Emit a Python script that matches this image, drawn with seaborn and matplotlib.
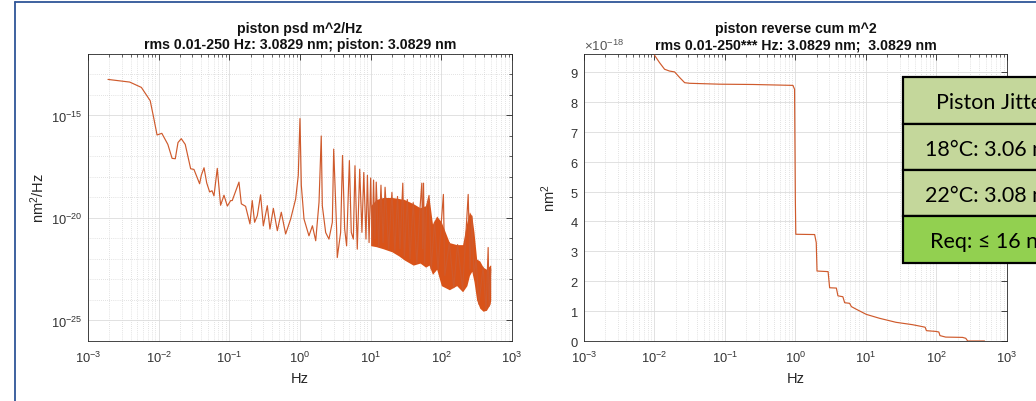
import numpy as np
import matplotlib
matplotlib.use("Agg")
import matplotlib.pyplot as plt
import seaborn as sns
from matplotlib.ticker import FixedLocator, NullFormatter, LogFormatterSciNotation
from matplotlib.patches import Rectangle
from matplotlib.lines import Line2D

# ---------------- data ----------------
# PSD trace: frequency (Hz) and log10 of PSD value
psd_freq = [0.00192, 0.0039, 0.0057, 0.0076, 0.0085, 0.0095, 0.0111, 0.0135, 0.0155, 0.0172,
            0.0188, 0.0209, 0.0238, 0.0284, 0.0316, 0.038, 0.0402, 0.0439, 0.0479, 0.0527,
            0.0569, 0.0607, 0.0676, 0.0753, 0.0841, 0.0938, 0.1045, 0.110, 0.137, 0.148,
            0.170, 0.196, 0.211, 0.228, 0.249, 0.277, 0.303, 0.345, 0.376, 0.42,
            0.478, 0.544, 0.627, 0.738, 0.869, 0.946, 1.0, 1.045, 1.14, 1.34,
            1.50, 1.67, 1.86, 2.0, 2.07, 2.31, 2.57, 2.87, 3.0, 3.30,
            3.37, 3.76, 4.0, 4.29, 4.57, 5.0, 5.32, 5.69, 6.0, 6.47,
            7.0, 7.53, 8.0, 8.59, 9.0, 9.5, 10.0, 10.5, 11.0, 11.5,
            12.0, 13.0, 14.0, 15.0, 16.0, 18.0, 20.0, 22.0, 24.0, 26.0,
            28.5, 30.0, 33.0, 36.0, 40.0, 45.0, 50.0, 53.0, 54.5, 56.0,
            58.0, 62.0, 67.0, 72.0, 80.0, 90.0, 100.0, 107.0, 112.0, 130.0,
            150.0, 170.0, 200.0, 225.0, 240.0, 255.0, 270.0, 290.0, 310.0, 340.0,
            390.0, 430.0, 460.0, 475.0, 500.0]
psd_log10 = [-13.24, -13.37, -13.63, -14.28, -15.10, -15.95, -15.87, -16.41, -17.09, -17.11,
             -16.32, -16.13, -16.41, -17.60, -17.63, -18.33, -17.91, -17.55, -18.29, -18.73,
             -18.67, -18.92, -17.58, -19.38, -18.89, -19.42, -19.15, -19.15, -18.25, -19.31,
             -19.43, -20.29, -19.15, -20.21, -19.89, -18.87, -20.38, -19.40, -20.54, -19.53,
             -20.62, -19.72, -20.78, -20.05, -19.07, -17.92, -15.15, -18.41, -20.05, -20.87,
             -20.38, -21.11, -19.23, -16.00, -19.40, -20.71, -21.03, -20.21, -16.64, -20.54,
             -21.93, -20.71, -16.95, -20.54, -21.36, -17.20, -20.70, -21.03, -17.45, -21.52,
             -17.62, -20.70, -17.78, -21.03, -17.92, -21.20, -18.05, -21.30, -18.15, -21.00,
             -18.25, -21.40, -18.40, -21.20, -18.50, -21.50, -18.75, -21.60, -18.95, -21.50,
             -18.30, -21.90, -19.10, -22.00, -19.25, -22.20, -19.50, -18.30, -21.50, -18.30,
             -22.20, -19.40, -18.90, -22.50, -20.20, -22.50, -20.20, -18.85, -22.80, -21.20,
             -23.40, -21.30, -23.50, -20.50, -18.85, -22.50, -19.90, -22.80, -22.00, -24.20,
             -22.40, -24.50, -21.44, -24.30, -22.50]

# dense part of the PSD (upper / lower envelope of the solid body, log10)
band_freq = [10, 12, 15, 20, 25, 30, 40, 50, 60, 67, 75, 86, 100, 130, 165,
             200, 230, 250, 270, 290, 316, 350, 390, 435, 490, 500]
band_hi = [-19.4, -19.1, -19.0, -19.0, -19.05, -19.1, -19.3, -19.5, -19.4, -19.0,
           -20.3, -19.9, -20.2, -21.2, -21.3, -21.3, -20.2, -19.7, -19.9, -20.7,
           -22.0, -22.1, -22.4, -22.5, -22.3, -22.3]
band_lo = [-21.35, -21.4, -21.5, -21.65, -21.85, -22.05, -22.3, -22.2, -22.4, -22.3,
           -22.75, -22.5, -23.3, -23.5, -23.3, -23.6, -23.3, -22.8, -22.6, -23.1,
           -24.0, -24.4, -24.55, -24.5, -24.2, -24.0]

# reverse cumulative (units of 1e-18)
cum_freq = [0.01, 0.0118, 0.0139, 0.0163, 0.0193, 0.0228, 0.0268, 0.0316, 0.084, 0.25,
            0.92, 0.97, 0.995, 1.01, 1.87, 1.97, 2.02, 2.9, 3.05, 3.8,
            4.0, 4.7, 4.98, 5.86, 6.2, 7.3, 10.1, 15.5, 26.6, 45.7,
            63.0, 69.0, 72.0, 98.0, 108.0, 112.0, 135.0, 234.0, 260.0, 277.0, 480.0]
cum_val = [9.56, 9.31, 9.09, 9.03, 9.0, 8.81, 8.64, 8.62, 8.59, 8.58,
           8.55, 8.42, 4.74, 3.57, 3.56, 3.29, 2.34, 2.32, 1.78, 1.77,
           1.51, 1.48, 1.28, 1.26, 1.15, 1.06, 0.89, 0.76, 0.625, 0.545,
           0.48, 0.46, 0.345, 0.32, 0.30, 0.18, 0.13, 0.12, 0.09, 0.0, 0.0]

table_rows = ["Piston Jitter", "18\u00b0C: 3.06 nm", "22\u00b0C: 3.08 nm", "Req: \u2264 16 nm"]
table_colors = ["#C4D79B", "#C4D79B", "#C4D79B", "#92D050"]

title_left = "piston psd m^2/Hz\nrms 0.01-250 Hz: 3.0829 nm; piston: 3.0829 nm"
title_right = "piston reverse cum m^2\nrms 0.01-250*** Hz: 3.0829 nm;  3.0829 nm"

# ---------------- style ----------------
sns.set_theme(style="white")
plt.rcParams.update({
    "axes.edgecolor": "#262626",
    "axes.linewidth": 0.6,
    "xtick.direction": "in",
    "ytick.direction": "in",
    "xtick.top": True,
    "ytick.right": True,
    "xtick.color": "#262626",
    "ytick.color": "#262626",
    "xtick.labelcolor": "#333333",
    "ytick.labelcolor": "#333333",
    "xtick.major.size": 4,
    "ytick.major.size": 4,
    "xtick.minor.size": 2,
    "ytick.minor.size": 2,
    "xtick.major.width": 0.6,
    "ytick.major.width": 0.6,
    "xtick.minor.width": 0.5,
    "ytick.minor.width": 0.5,
    "xtick.major.pad": 6,
    "ytick.major.pad": 4,
    "xtick.labelsize": 9.3,
    "ytick.labelsize": 9.3,
    "axes.labelsize": 10.5,
    "axes.labelcolor": "#262626",
    "mathtext.default": "regular",
})
plt.rcParams["font.family"] = ["Liberation Sans", "DejaVu Sans"]

ORANGE = "#D95319"
LINE = "#CF5A2C"
MAJ_GRID = dict(color="#DCDCDC", linestyle="-", linewidth=0.6)
MIN_GRID = dict(color="#C8C8C8", linestyle=(0, (1, 2)), linewidth=0.5)

fig = plt.figure(figsize=(10.36, 4.02), dpi=100)
ax1 = fig.add_axes([0.0849, 0.1493, 0.4093, 0.7139])
ax2 = fig.add_axes([0.5637, 0.1493, 0.4083, 0.7139])

# ---------------- left: PSD ----------------
ax1.set_xscale("log")
ax1.set_yscale("log")
ax1.fill_between(band_freq, np.power(10.0, band_hi), np.power(10.0, band_lo),
                 color=ORANGE, linewidth=0, zorder=2)
sns.lineplot(x=psd_freq, y=np.power(10.0, psd_log10), ax=ax1, color=LINE,
             linewidth=0.85, estimator=None, sort=False, zorder=3)
ax1.set_xlim(1e-3, 1e3)
ax1.set_ylim(1e-26, 1e-12)
ax1.xaxis.set_major_locator(FixedLocator([10.0 ** k for k in range(-3, 4)]))
ax1.xaxis.set_minor_locator(FixedLocator([m * 10.0 ** k for k in range(-3, 3) for m in range(2, 10)]))
ax1.xaxis.set_major_formatter(LogFormatterSciNotation())
ax1.xaxis.set_minor_formatter(NullFormatter())
ax1.yaxis.set_major_locator(FixedLocator([1e-25, 1e-20, 1e-15]))
ax1.yaxis.set_minor_locator(FixedLocator([10.0 ** k for k in range(-26, -11)]))
ax1.yaxis.set_major_formatter(LogFormatterSciNotation())
ax1.yaxis.set_minor_formatter(NullFormatter())
ax1.set_xlabel("Hz", labelpad=5)
ax1.set_ylabel("nm$^2$/Hz", labelpad=3)
ax1.set_title(title_left, fontweight="bold", fontsize=10.2, pad=4, color="#111111", linespacing=1.2)

# ---------------- right: reverse cumulative ----------------
ax2.set_xscale("log")
sns.lineplot(x=cum_freq, y=np.array(cum_val) * 1e-18, ax=ax2, color=LINE,
             linewidth=0.85, estimator=None, sort=False, zorder=3)
ax2.set_xlim(1e-3, 1e3)
ax2.set_ylim(0, 9.6e-18)
ax2.xaxis.set_major_locator(FixedLocator([10.0 ** k for k in range(-3, 4)]))
ax2.xaxis.set_minor_locator(FixedLocator([m * 10.0 ** k for k in range(-3, 3) for m in range(2, 10)]))
ax2.xaxis.set_major_formatter(LogFormatterSciNotation())
ax2.xaxis.set_minor_formatter(NullFormatter())
ax2.yaxis.set_major_locator(FixedLocator([k * 1e-18 for k in range(0, 10)]))
ax2.ticklabel_format(axis="y", style="sci", scilimits=(0, 0), useMathText=True)
ax2.yaxis.get_offset_text().set_color("#555555")
ax2.yaxis.get_offset_text().set_fontsize(9.5)
ax2.set_xlabel("Hz", labelpad=5)
ax2.set_ylabel("nm$^2$", labelpad=8)
ax2.set_title(title_right, fontweight="bold", fontsize=10.2, pad=4, color="#111111", linespacing=1.2)

for ax in (ax1, ax2):
    ax.set_axisbelow(True)
    ax.grid(True, which="major", **MAJ_GRID)
    ax.grid(True, which="minor", **MIN_GRID)
    ax.tick_params(which="both", top=True, right=True)
    for s in ax.spines.values():
        s.set_visible(True)
        s.set_color("#262626")
ax2.yaxis.grid(False, which="minor")

# ---------------- slide frame ----------------
fig.add_artist(Line2D([15 / 1036, 1.0], [1 - 3 / 402, 1 - 3 / 402], transform=fig.transFigure,
                      color="#2F5597", linewidth=1.3))
fig.add_artist(Line2D([15 / 1036, 15 / 1036], [0.0, 1 - 3 / 402], transform=fig.transFigure,
                      color="#2F5597", linewidth=1.3))

# ---------------- table overlay ----------------
row_edges = [78, 125, 171, 217, 264]
x0, x1 = 903 / 1036, 1083 / 1036
for i, (label, col) in enumerate(zip(table_rows, table_colors)):
    ytop = 1 - row_edges[i] / 402
    ybot = 1 - row_edges[i + 1] / 402
    fig.add_artist(Rectangle((x0, ybot), x1 - x0, ytop - ybot, transform=fig.transFigure,
                             facecolor=col, edgecolor="black", linewidth=1.6, zorder=5))
    fig.text((x0 + x1) / 2, (ytop + ybot) / 2 - 0.004, label, ha="center", va="center",
             fontsize=15.5, family=["Lato", "DejaVu Sans"], color="black", zorder=6)

fig.savefig("out.png", dpi=100)
